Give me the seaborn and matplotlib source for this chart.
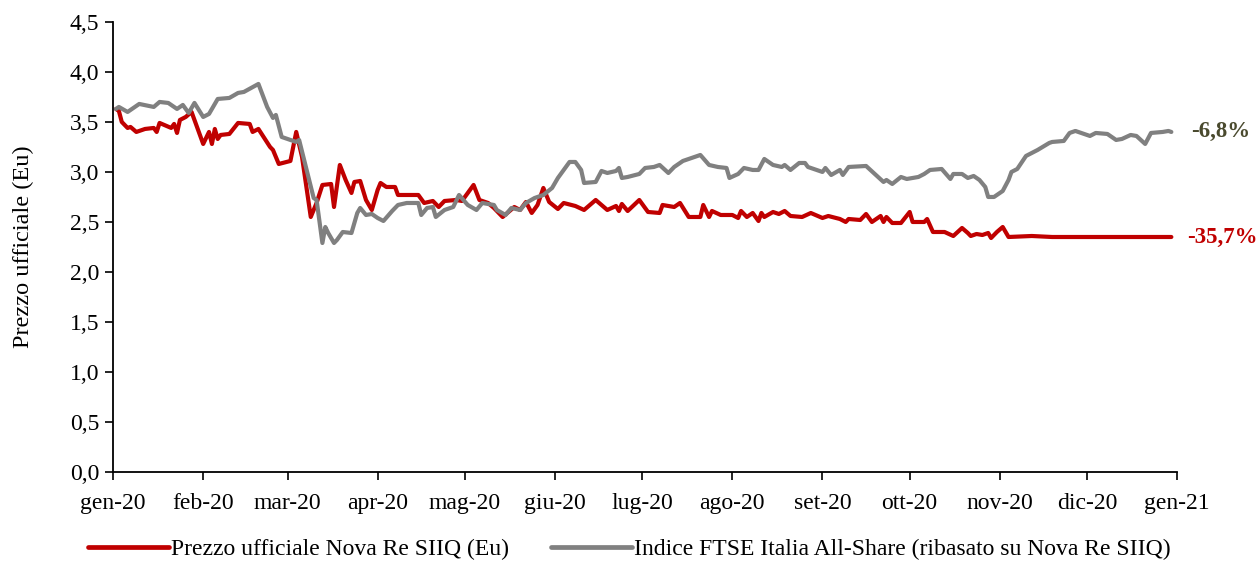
import matplotlib
matplotlib.use("Agg")
import matplotlib.pyplot as plt
import seaborn as sns
import pandas as pd
import numpy as np

# ---- data (days since 2020-01-01, value in EUR) ----
nova_days = [1, 2, 3, 5, 6, 8, 11, 14, 15, 16, 20, 21, 22, 23, 25, 27, 29, 31, 33, 34, 35, 36, 37, 40,
             43, 47, 48, 50, 54, 55, 57, 61, 63, 65, 68, 70, 72, 75, 76, 78, 80, 82, 83, 85, 87, 89, 91,
             92, 94, 97, 98, 102, 105, 107, 110, 112, 114, 118, 120, 124, 126, 129, 131, 134, 138, 140,
             142, 144, 146, 148, 150, 153, 155, 159, 162, 166, 170, 173, 174, 175, 177, 181, 184, 188,
             189, 193, 195, 198, 202, 203, 205, 206, 209, 213, 215, 216, 218, 220, 222, 223, 224, 227,
             229, 231, 233, 237, 240, 244, 246, 250, 252, 253, 257, 259, 261, 264, 265, 266, 268, 271,
             274, 275, 279, 280, 282, 286, 289, 292, 294, 295, 297, 299, 301, 302, 304, 306, 308, 316,
             323, 330, 339, 364]
nova_vals = [3.63, 3.61, 3.50, 3.44, 3.45, 3.40, 3.43, 3.44, 3.40, 3.49, 3.44, 3.48, 3.39, 3.52, 3.55,
             3.60, 3.44, 3.28, 3.40, 3.28, 3.43, 3.33, 3.37, 3.38, 3.49, 3.48, 3.40, 3.43, 3.25, 3.22,
             3.08, 3.11, 3.40, 3.15, 2.55, 2.69, 2.87, 2.88, 2.65, 3.07, 2.92, 2.79, 2.90, 2.91, 2.72,
             2.62, 2.82, 2.89, 2.85, 2.85, 2.77, 2.77, 2.77, 2.69, 2.71, 2.65, 2.71, 2.72, 2.71, 2.87,
             2.72, 2.69, 2.64, 2.55, 2.65, 2.62, 2.70, 2.59, 2.67, 2.84, 2.70, 2.63, 2.69, 2.66, 2.62,
             2.72, 2.62, 2.66, 2.61, 2.68, 2.61, 2.72, 2.60, 2.59, 2.67, 2.65, 2.69, 2.55, 2.55, 2.67,
             2.55, 2.61, 2.57, 2.57, 2.54, 2.61, 2.55, 2.59, 2.51, 2.59, 2.55, 2.60, 2.58, 2.61, 2.56,
             2.55, 2.59, 2.54, 2.56, 2.53, 2.50, 2.53, 2.52, 2.58, 2.50, 2.56, 2.50, 2.55, 2.49, 2.49,
             2.60, 2.50, 2.50, 2.53, 2.40, 2.40, 2.36, 2.44, 2.39, 2.36, 2.38, 2.37, 2.39, 2.34, 2.40,
             2.45, 2.35, 2.36, 2.35, 2.35, 2.35, 2.35]

ftse_days = [1, 2, 5, 9, 14, 16, 19, 22, 24, 26, 28, 31, 33, 36, 40, 43, 45, 50, 53, 55, 56, 58, 63,
             64, 69, 70, 72, 73, 74, 76, 77, 79, 82, 84, 85, 87, 89, 91, 93, 96, 98, 101, 105, 106, 108,
             110, 111, 114, 117, 119, 122, 125, 127, 131, 132, 135, 137, 140, 142, 145, 148, 151, 153,
             155, 157, 159, 161, 162, 166, 168, 170, 173, 174, 175, 177, 181, 183, 186, 188, 191, 193,
             196, 199, 202, 205, 208, 211, 212, 215, 217, 220, 222, 224, 227, 230, 231, 233, 236, 238,
             239, 244, 245, 247, 250, 251, 253, 259, 265, 266, 268, 271, 273, 277, 279, 281, 285, 288,
             289, 292, 294, 296, 298, 300, 301, 303, 306, 308, 309, 311, 314, 316, 318, 322, 323, 327,
             329, 331, 334, 336, 338, 342, 345, 347, 350, 352, 355, 357, 361, 363, 364]
ftse_vals = [3.63, 3.65, 3.60, 3.68, 3.65, 3.70, 3.69, 3.63, 3.67, 3.59, 3.69, 3.55, 3.58, 3.73, 3.74,
             3.79, 3.80, 3.88, 3.65, 3.54, 3.57, 3.35, 3.30, 3.32, 2.74, 2.72, 2.29, 2.45, 2.39, 2.29,
             2.32, 2.40, 2.39, 2.59, 2.64, 2.57, 2.58, 2.54, 2.51, 2.61, 2.67, 2.69, 2.69, 2.57, 2.64,
             2.65, 2.55, 2.62, 2.65, 2.77, 2.67, 2.62, 2.69, 2.67, 2.62, 2.57, 2.64, 2.62, 2.69, 2.74,
             2.77, 2.84, 2.94, 3.02, 3.10, 3.10, 3.02, 2.89, 2.90, 3.01, 2.99, 3.01, 3.04, 2.94, 2.95,
             2.98, 3.04, 3.05, 3.07, 2.99, 3.05, 3.11, 3.14, 3.17, 3.07, 3.05, 3.04, 2.94, 2.98, 3.04,
             3.02, 3.02, 3.13, 3.07, 3.05, 3.07, 3.02, 3.09, 3.09, 3.05, 3.00, 3.04, 2.97, 3.02, 2.97,
             3.05, 3.06, 2.90, 2.92, 2.88, 2.95, 2.93, 2.95, 2.98, 3.02, 3.03, 2.93, 2.98, 2.98, 2.94,
             2.96, 2.92, 2.85, 2.75, 2.75, 2.81, 2.92, 3.00, 3.03, 3.16, 3.19, 3.22, 3.29, 3.30, 3.31,
             3.39, 3.41, 3.38, 3.36, 3.39, 3.38, 3.32, 3.33, 3.37, 3.36, 3.28, 3.39, 3.40, 3.41, 3.40]

series_names = ["Prezzo ufficiale Nova Re SIIQ (Eu)",
                "Indice FTSE Italia All-Share (ribasato su Nova Re SIIQ)"]
month_labels = ["gen-20", "feb-20", "mar-20", "apr-20", "mag-20", "giu-20", "lug-20",
                "ago-20", "set-20", "ott-20", "nov-20", "dic-20", "gen-21"]
y_ticks = [0.0, 0.5, 1.0, 1.5, 2.0, 2.5, 3.0, 3.5, 4.0, 4.5]
y_tick_labels = ["0,0", "0,5", "1,0", "1,5", "2,0", "2,5", "3,0", "3,5", "4,0", "4,5"]
end_labels = ["-35,7%", "-6,8%"]

# ---- build frame ----
base = pd.Timestamp("2020-01-01")
df = pd.concat([
    pd.DataFrame({"date": base + pd.to_timedelta(nova_days, unit="D"), "value": nova_vals,
                  "serie": series_names[0]}),
    pd.DataFrame({"date": base + pd.to_timedelta(ftse_days, unit="D"), "value": ftse_vals,
                  "serie": series_names[1]}),
])

sns.set_style("ticks")
plt.rcParams["font.family"] = ["Liberation Serif", "DejaVu Serif"]
plt.rcParams["text.color"] = "black"
plt.rcParams["axes.labelcolor"] = "black"
plt.rcParams["xtick.color"] = "black"
plt.rcParams["ytick.color"] = "black"

fig = plt.figure(figsize=(12.59, 5.62), dpi=100)
ax = fig.add_axes([0.0898, 0.160, 0.8452, 0.801])

palette = {series_names[0]: "#C00000", series_names[1]: "#808080"}
sns.lineplot(data=df, x="date", y="value", hue="serie", palette=palette, ax=ax,
             linewidth=3.0, legend=True)

ax.set_xlim(pd.Timestamp("2020-01-01"), pd.Timestamp("2021-01-01"))
ax.set_ylim(0, 4.5)
month_ticks = pd.date_range("2020-01-01", "2021-01-01", freq="MS")
ax.set_xticks(month_ticks)
ax.set_xticklabels(month_labels, fontsize=17)
ax.set_yticks(y_ticks)
ax.set_yticklabels(y_tick_labels, fontsize=17)
ax.tick_params(axis="both", direction="out", length=6, width=1.2, color="black",
               labelcolor="black")
ax.tick_params(axis="x", pad=9)
ax.tick_params(axis="y", pad=4)
ax.set_xlabel("")
ax.set_ylabel("Prezzo ufficiale (Eu)", fontsize=17.5, labelpad=26, color="black")
for s in ["top", "right"]:
    ax.spines[s].set_visible(False)
for s in ["left", "bottom"]:
    ax.spines[s].set_color("black")
    ax.spines[s].set_linewidth(1.3)

# end labels
ax.annotate(end_labels[1], xy=(df[df.serie == series_names[1]].date.iloc[-1], ftse_vals[-1]),
            xytext=(14, 0), textcoords="offset points", va="center", ha="left",
            fontsize=16.5, fontweight="bold", color="#4A4A2E", annotation_clip=False)
ax.annotate(end_labels[0], xy=(df[df.serie == series_names[0]].date.iloc[-1], nova_vals[-1]),
            xytext=(11, 0), textcoords="offset points", va="center", ha="left",
            fontsize=16.5, fontweight="bold", color="#C00000", annotation_clip=False)

handles, labels = ax.get_legend_handles_labels()
ax.get_legend().remove()
for h in handles:
    h.set_linewidth(3.4)
fig.legend(handles, labels, loc="lower center", bbox_to_anchor=(0.5, -0.035), ncol=2,
           frameon=False, fontsize=17, handlelength=3.4, handletextpad=0.1, columnspacing=1.8,
           labelcolor="black")

fig.savefig("out.png", dpi=100)
